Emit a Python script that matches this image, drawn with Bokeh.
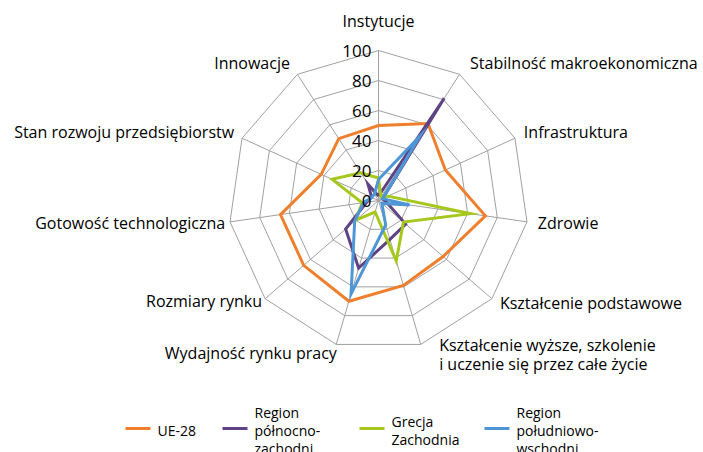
import numpy as np
from bokeh.plotting import figure
from bokeh.models import Range1d
from bokeh.core.properties import value
from bokeh.embed import file_html
from bokeh.resources import INLINE

categories = ["Instytucje", "Stabilność makroekonomiczna", "Infrastruktura", "Zdrowie",
              "Kształcenie podstawowe",
              "Kształcenie wyższe, szkolenie\ni uczenie się przez całe życie",
              "Wydajność rynku pracy", "Rozmiary rynku", "Gotowość technologiczna",
              "Stan rozwoju przedsiębiorstw", "Innowacje"]
series_names = ["UE-28", "Region\npółnocno-\nzachodni", "Grecja\nZachodnia", "Region\npołudniowo-\nwschodni"]
ue28 = [50, 61, 49, 72, 57, 59, 70, 66, 66, 42, 49]
pn_zach = [3, 81, 3, 5, 24, 27, 47, 29, 8, 5, 13]
grecja_zach = [15, 3, 7, 62, 22, 42, 8, 20, 11, 34, 22]
pd_wsch = [14, 51, 3, 21, 3, 17, 65, 21, 10, 5, 5]
tick_values = [0, 20, 40, 60, 80, 100]
tick_labels = ["0", "20", "40", "60", "80", "100"]

colors = ["#F07F2D", "#5E4384", "#A6C71C", "#4E96D6"]
FONT = "Open Sans"

W, H = 703, 452
p = figure(width=W, height=H, x_range=Range1d(0, W), y_range=Range1d(H, 0),
           output_backend="svg", toolbar_location=None, min_border=0)
p.axis.visible = False
p.grid.visible = False
p.outline_line_color = None
p.background_fill_color = "white"

cx, cy, R = 378.0, 200.0, 150.0
n = len(categories)
theta = np.arange(n) * 2 * np.pi / n

def to_xy(vals):
    v = np.asarray(vals, dtype=float) / 100.0 * R
    return cx + v * np.sin(theta), cy - v * np.cos(theta)

# grid rings
for t in tick_values[1:]:
    xs, ys = to_xy([t] * n)
    p.line(list(xs) + [xs[0]], list(ys) + [ys[0]], line_color="#A0A0A0", line_width=1)
# spokes
xe, ye = to_xy([100] * n)
p.segment(x0=[cx] * n, y0=[cy] * n, x1=xe, y1=ye, line_color="#A0A0A0", line_width=1)

# series
for vals, col in zip([ue28, pn_zach, grecja_zach, pd_wsch], colors):
    xs, ys = to_xy(vals)
    p.line(list(xs) + [xs[0]], list(ys) + [ys[0]], line_color=col, line_width=3,
           line_join="miter")

# tick labels
tv = np.array(tick_values, dtype=float)
p.text(x=[cx - 7] * len(tv), y=cy - tv / 100.0 * R, text=tick_labels,
       text_font=value(FONT), text_font_size="17px", text_align="right",
       text_baseline="middle", text_color="#000000")

# category labels
lab_r = 162.0
lx = cx + lab_r * np.sin(theta)
ly = cy - lab_r * np.cos(theta)
aligns = []
for th in theta:
    s = np.sin(th)
    if abs(s) < 1e-6:
        aligns.append("center")
    elif s > 0:
        aligns.append("left")
    else:
        aligns.append("right")
dxs = [0, 4, -2, -1, -1, 15, 4, 6, 7, 3, -1]
dys = [-18, -1, -1, -1, -4, -1, -3, -6, -1, -1, -1]
for i in range(n):
    p.text(x=[lx[i] + dxs[i]], y=[ly[i] + dys[i]], text=[categories[i]],
           text_font=value(FONT), text_font_size="16px", text_align=aligns[i],
           text_baseline="middle", text_color="#000000", text_line_height=0.87)

# legend
leg_x = [125, 222, 359, 484]
leg_y = 428
for x0, col, name in zip(leg_x, colors, series_names):
    p.segment(x0=[x0], y0=[leg_y], x1=[x0 + 25], y1=[leg_y], line_color=col, line_width=3)
    p.text(x=[x0 + 32], y=[leg_y + 2], text=[name], text_font=value(FONT),
           text_font_size="14px", text_align="left", text_baseline="middle",
           text_color="#000000", text_line_height=0.95)

open("out.html", "w").write(file_html(p, INLINE))
